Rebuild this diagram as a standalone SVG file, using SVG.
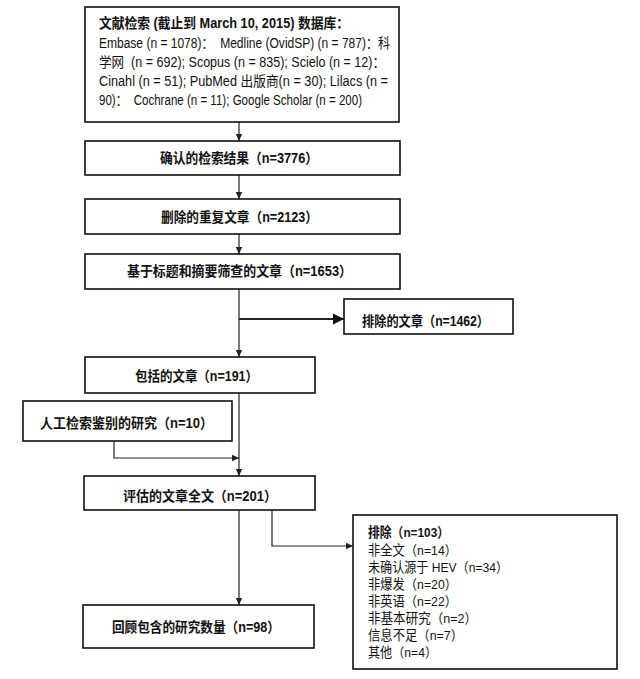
<svg xmlns="http://www.w3.org/2000/svg" width="640" height="679" viewBox="0 0 640 679">
<defs>
<style>
.box{fill:#fff;stroke:#111;stroke-width:1.6}
.ln{fill:none;stroke:#222;stroke-width:1.2}
.t{font-family:"Liberation Sans","Noto Sans CJK SC",sans-serif;font-size:14px;fill:#111}
.s{font-size:13.5px}
.b{font-weight:bold}
</style>
<marker id="sa" markerUnits="userSpaceOnUse" markerWidth="8" markerHeight="8" refX="7" refY="4" orient="auto">
<path d="M0,0.8 L7,4 L0,7.2 Z" fill="#222"/>
</marker>
<marker id="ba" markerUnits="userSpaceOnUse" markerWidth="12" markerHeight="12" refX="11" refY="6" orient="auto">
<path d="M0,0.5 L11,6 L0,11.5 Z" fill="#111"/>
</marker>
</defs>
<rect width="640" height="679" fill="#fff"/>
<g id="connectors">
<line class="ln" x1="239" y1="122" x2="239" y2="141" marker-end="url(#sa)"/>
<line class="ln" x1="239" y1="175" x2="239" y2="199" marker-end="url(#sa)"/>
<line class="ln" x1="239" y1="234" x2="239" y2="254" marker-end="url(#sa)"/>
<line class="ln" x1="239" y1="289" x2="239" y2="357" marker-end="url(#sa)"/>
<line class="ln" x1="239" y1="319" x2="344" y2="319" style="stroke-width:2" marker-end="url(#ba)"/>
<line class="ln" x1="239" y1="393" x2="239" y2="476" marker-end="url(#sa)"/>
<polyline class="ln" points="114,441 114,458 239,458" marker-end="url(#sa)"/>
<line class="ln" x1="239" y1="510" x2="239" y2="605" marker-end="url(#sa)"/>
<polyline class="ln" points="272,510 272,546 353,546" marker-end="url(#sa)"/>
</g>
<g id="n1">
<rect class="box" x="85" y="7" width="314" height="115"/>
<text class="t b" x="99" y="28" textLength="250" lengthAdjust="spacingAndGlyphs">文献检索 (截止到 March 10, 2015) 数据库：</text>
<text class="t" x="99" y="47.5" xml:space="preserve" textLength="291" lengthAdjust="spacingAndGlyphs">Embase (n = 1078)：  Medline (OvidSP) (n = 787)：科</text>
<text class="t" x="99" y="66.5" xml:space="preserve" textLength="286" lengthAdjust="spacingAndGlyphs">学网  (n = 692); Scopus (n = 835); Scielo (n = 12)：</text>
<text class="t" x="99" y="85.5" textLength="289" lengthAdjust="spacingAndGlyphs">Cinahl (n = 51); PubMed 出版商(n = 30); Lilacs (n =</text>
<text class="t" x="99" y="104.5" xml:space="preserve" textLength="263" lengthAdjust="spacingAndGlyphs">90)：  Cochrane (n = 11); Google Scholar (n = 200)</text>
</g>
<g id="n2">
<rect class="box" x="85" y="141" width="315" height="34"/>
<text class="t b" x="160" y="162.5" textLength="158" lengthAdjust="spacingAndGlyphs">确认的检索结果（n=3776）</text>
</g>
<g id="n3">
<rect class="box" x="85" y="199" width="315" height="35"/>
<text class="t b" x="161" y="221.5" textLength="157" lengthAdjust="spacingAndGlyphs">删除的重复文章（n=2123）</text>
</g>
<g id="n4">
<rect class="box" x="85" y="254" width="315" height="35"/>
<text class="t b" x="127" y="275.5" textLength="225" lengthAdjust="spacingAndGlyphs">基于标题和摘要筛查的文章（n=1653）</text>
</g>
<g id="n5">
<rect class="box" x="344" y="299" width="169" height="35"/>
<text class="t b" x="362" y="326" textLength="127" lengthAdjust="spacingAndGlyphs">排除的文章（n=1462）</text>
</g>
<g id="n6">
<rect class="box" x="85" y="357" width="230" height="36"/>
<text class="t b" x="135" y="380.5" textLength="123" lengthAdjust="spacingAndGlyphs">包括的文章（n=191）</text>
</g>
<g id="n7">
<rect class="box" x="23" y="401" width="209" height="40"/>
<text class="t b" x="40" y="427.5" textLength="173" lengthAdjust="spacingAndGlyphs">人工检索鉴别的研究（n=10）</text>
</g>
<g id="n8">
<rect class="box" x="84" y="476" width="231" height="34"/>
<text class="t b" x="123" y="500.5" textLength="154" lengthAdjust="spacingAndGlyphs">评估的文章全文（n=201）</text>
</g>
<g id="n9">
<rect class="box" x="83" y="605" width="231" height="43"/>
<text class="t b" x="112" y="632" textLength="168" lengthAdjust="spacingAndGlyphs">回顾包含的研究数量（n=98）</text>
</g>
<g id="n10">
<rect class="box" x="353" y="515" width="264" height="154"/>
<text class="t s b" x="368" y="537" textLength="81" lengthAdjust="spacingAndGlyphs">排除（n=103）</text>
<text class="t s" x="368" y="554.5" textLength="89" lengthAdjust="spacingAndGlyphs">非全文（n=14）</text>
<text class="t s" x="368" y="571.5" textLength="140" lengthAdjust="spacingAndGlyphs">未确认源于 HEV（n=34）</text>
<text class="t s" x="368" y="588.5" textLength="89" lengthAdjust="spacingAndGlyphs">非爆发（n=20）</text>
<text class="t s" x="368" y="605.5" textLength="89" lengthAdjust="spacingAndGlyphs">非英语（n=22）</text>
<text class="t s" x="368" y="622.5" textLength="109" lengthAdjust="spacingAndGlyphs">非基本研究（n=2）</text>
<text class="t s" x="368" y="640" textLength="95" lengthAdjust="spacingAndGlyphs">信息不足（n=7）</text>
<text class="t s" x="368" y="657" textLength="69" lengthAdjust="spacingAndGlyphs">其他（n=4）</text>
</g>
</svg>
